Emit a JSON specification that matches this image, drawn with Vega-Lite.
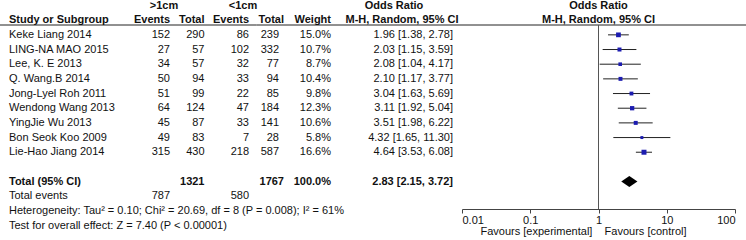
{
  "$schema": "https://vega.github.io/schema/vega-lite/v6.json",
  "width": 746,
  "height": 240,
  "autosize": "none",
  "padding": 0,
  "config": {
    "view": {"stroke": null},
    "text": {"font": "Liberation Sans", "fontSize": 11, "color": "#111", "baseline": "middle"}
  },
  "datasets": {
    "grouphead": [{"row": 0, "g1": ">1cm", "g2": "<1cm", "or": "Odds Ratio"}],
    "colhead": [{"row": 1, "study": "Study or Subgroup", "e1": "Events", "t1": "Total", "e2": "Events", "t2": "Total", "w": "Weight", "ci": "M-H, Random, 95% CI"}],
    "studies": [
      {"row": 2, "study": "Keke Liang 2014", "e1": 152, "t1": 290, "e2": 86, "t2": 239, "w": 0.150, "or": 1.96, "lo": 1.38, "hi": 2.78, "ci": "1.96 [1.38, 2.78]"},
      {"row": 3, "study": "LING-NA MAO 2015", "e1": 27, "t1": 57, "e2": 102, "t2": 332, "w": 0.107, "or": 2.03, "lo": 1.15, "hi": 3.59, "ci": "2.03 [1.15, 3.59]"},
      {"row": 4, "study": "Lee, K. E 2013", "e1": 34, "t1": 57, "e2": 32, "t2": 77, "w": 0.087, "or": 2.08, "lo": 1.04, "hi": 4.17, "ci": "2.08 [1.04, 4.17]"},
      {"row": 5, "study": "Q. Wang.B 2014", "e1": 50, "t1": 94, "e2": 33, "t2": 94, "w": 0.104, "or": 2.10, "lo": 1.17, "hi": 3.77, "ci": "2.10 [1.17, 3.77]"},
      {"row": 6, "study": "Jong-Lyel Roh 2011", "e1": 51, "t1": 99, "e2": 22, "t2": 85, "w": 0.098, "or": 3.04, "lo": 1.63, "hi": 5.69, "ci": "3.04 [1.63, 5.69]"},
      {"row": 7, "study": "Wendong Wang 2013", "e1": 64, "t1": 124, "e2": 47, "t2": 184, "w": 0.123, "or": 3.11, "lo": 1.92, "hi": 5.04, "ci": "3.11 [1.92, 5.04]"},
      {"row": 8, "study": "YingJie Wu 2013", "e1": 45, "t1": 87, "e2": 33, "t2": 141, "w": 0.106, "or": 3.51, "lo": 1.98, "hi": 6.22, "ci": "3.51 [1.98, 6.22]"},
      {"row": 9, "study": "Bon Seok Koo 2009", "e1": 49, "t1": 83, "e2": 7, "t2": 28, "w": 0.058, "or": 4.32, "lo": 1.65, "hi": 11.30, "ci": "4.32 [1.65, 11.30]"},
      {"row": 10, "study": "Lie-Hao Jiang 2014", "e1": 315, "t1": 430, "e2": 218, "t2": 587, "w": 0.166, "or": 4.64, "lo": 3.53, "hi": 6.08, "ci": "4.64 [3.53, 6.08]"}
    ],
    "total": [{"row": 12, "study": "Total (95% CI)", "t1": 1321, "t2": 1767, "w": 1.0, "or": 2.83, "lo": 2.15, "hi": 3.72, "ci": "2.83 [2.15, 3.72]"}],
    "events": [{"row": 13, "study": "Total events", "e1": 787, "e2": 580}],
    "notes": [
      {"row": 14, "study": "Heterogeneity: Tau² = 0.10; Chi² = 20.69, df = 8 (P = 0.008); I² = 61%"},
      {"row": 15, "study": "Test for overall effect: Z = 7.40 (P < 0.00001)"}
    ]
  },
  "layer": [
    {
      "layer": [
        {
          "data": {"values": [{}]},
          "mark": {"type": "rule", "color": "#222", "strokeWidth": 1},
          "encoding": {
            "y": {"datum": 1.33, "type": "quantitative", "scale": {"domain": [0, 15], "range": [5.5, 225.6], "nice": false, "zero": false}, "axis": null}
          }
        },
        {
          "data": {"name": "grouphead"},
          "layer": [
            {"mark": {"type": "text", "fontWeight": "bold", "align": "center"},
             "encoding": {"x": {"datum": 1, "type": "quantitative", "scale": {"domain": [0,1,2,3,4,5,6,7,8,9,10,11], "range": [9,164,170,204.5,243,249,279,284,331,394,402,453], "nice": false, "zero": false}, "axis": null},
                          "y": {"field": "row", "type": "quantitative", "scale": {"domain": [0, 15], "range": [5.5, 225.6], "nice": false, "zero": false}, "axis": null},
                          "text": {"field": "g1"}}},
            {"mark": {"type": "text", "fontWeight": "bold", "align": "center"},
             "encoding": {"x": {"datum": 4, "type": "quantitative", "scale": {"domain": [0,1,2,3,4,5,6,7,8,9,10,11], "range": [9,164,170,204.5,243,249,279,284,331,394,402,453], "nice": false, "zero": false}, "axis": null},
                          "y": {"field": "row", "type": "quantitative", "scale": {"domain": [0, 15], "range": [5.5, 225.6], "nice": false, "zero": false}, "axis": null},
                          "text": {"field": "g2"}}},
            {"mark": {"type": "text", "fontWeight": "bold", "align": "center"},
             "encoding": {"x": {"datum": 9, "type": "quantitative", "scale": {"domain": [0,1,2,3,4,5,6,7,8,9,10,11], "range": [9,164,170,204.5,243,249,279,284,331,394,402,453], "nice": false, "zero": false}, "axis": null},
                          "y": {"field": "row", "type": "quantitative", "scale": {"domain": [0, 15], "range": [5.5, 225.6], "nice": false, "zero": false}, "axis": null},
                          "text": {"field": "or"}}}
          ]
        },
        {
          "data": {"name": "colhead"},
          "layer": [
            {"mark": {"type": "text", "fontWeight": "bold", "align": "left"},
             "encoding": {"x": {"datum": 0, "type": "quantitative", "scale": {"domain": [0,1,2,3,4,5,6,7,8,9,10,11], "range": [9,164,170,204.5,243,249,279,284,331,394,402,453], "nice": false, "zero": false}, "axis": null},
                          "y": {"field": "row", "type": "quantitative", "scale": {"domain": [0, 15], "range": [5.5, 225.6], "nice": false, "zero": false}, "axis": null},
                          "text": {"field": "study"}}},
            {"mark": {"type": "text", "fontWeight": "bold", "align": "right"},
             "encoding": {"x": {"datum": 2, "type": "quantitative", "scale": {"domain": [0,1,2,3,4,5,6,7,8,9,10,11], "range": [9,164,170,204.5,243,249,279,284,331,394,402,453], "nice": false, "zero": false}, "axis": null},
                          "y": {"field": "row", "type": "quantitative", "scale": {"domain": [0, 15], "range": [5.5, 225.6], "nice": false, "zero": false}, "axis": null},
                          "text": {"field": "e1"}}},
            {"mark": {"type": "text", "fontWeight": "bold", "align": "right"},
             "encoding": {"x": {"datum": 3, "type": "quantitative", "scale": {"domain": [0,1,2,3,4,5,6,7,8,9,10,11], "range": [9,164,170,204.5,243,249,279,284,331,394,402,453], "nice": false, "zero": false}, "axis": null},
                          "y": {"field": "row", "type": "quantitative", "scale": {"domain": [0, 15], "range": [5.5, 225.6], "nice": false, "zero": false}, "axis": null},
                          "text": {"field": "t1"}}},
            {"mark": {"type": "text", "fontWeight": "bold", "align": "right"},
             "encoding": {"x": {"datum": 5, "type": "quantitative", "scale": {"domain": [0,1,2,3,4,5,6,7,8,9,10,11], "range": [9,164,170,204.5,243,249,279,284,331,394,402,453], "nice": false, "zero": false}, "axis": null},
                          "y": {"field": "row", "type": "quantitative", "scale": {"domain": [0, 15], "range": [5.5, 225.6], "nice": false, "zero": false}, "axis": null},
                          "text": {"field": "e2"}}},
            {"mark": {"type": "text", "fontWeight": "bold", "align": "right"},
             "encoding": {"x": {"datum": 7, "type": "quantitative", "scale": {"domain": [0,1,2,3,4,5,6,7,8,9,10,11], "range": [9,164,170,204.5,243,249,279,284,331,394,402,453], "nice": false, "zero": false}, "axis": null},
                          "y": {"field": "row", "type": "quantitative", "scale": {"domain": [0, 15], "range": [5.5, 225.6], "nice": false, "zero": false}, "axis": null},
                          "text": {"field": "t2"}}},
            {"mark": {"type": "text", "fontWeight": "bold", "align": "right"},
             "encoding": {"x": {"datum": 8, "type": "quantitative", "scale": {"domain": [0,1,2,3,4,5,6,7,8,9,10,11], "range": [9,164,170,204.5,243,249,279,284,331,394,402,453], "nice": false, "zero": false}, "axis": null},
                          "y": {"field": "row", "type": "quantitative", "scale": {"domain": [0, 15], "range": [5.5, 225.6], "nice": false, "zero": false}, "axis": null},
                          "text": {"field": "w"}}},
            {"mark": {"type": "text", "fontWeight": "bold", "align": "center"},
             "encoding": {"x": {"datum": 10, "type": "quantitative", "scale": {"domain": [0,1,2,3,4,5,6,7,8,9,10,11], "range": [9,164,170,204.5,243,249,279,284,331,394,402,453], "nice": false, "zero": false}, "axis": null},
                          "y": {"field": "row", "type": "quantitative", "scale": {"domain": [0, 15], "range": [5.5, 225.6], "nice": false, "zero": false}, "axis": null},
                          "text": {"field": "ci"}}}
          ]
        },
        {
          "data": {"name": "studies"},
          "layer": [
            {"mark": {"type": "text", "align": "left"},
             "encoding": {"x": {"datum": 0, "type": "quantitative", "scale": {"domain": [0,1,2,3,4,5,6,7,8,9,10,11], "range": [9,164,170,204.5,243,249,279,284,331,394,402,453], "nice": false, "zero": false}, "axis": null},
                          "y": {"field": "row", "type": "quantitative", "scale": {"domain": [0, 15], "range": [5.5, 225.6], "nice": false, "zero": false}, "axis": null},
                          "text": {"field": "study"}}},
            {"mark": {"type": "text", "align": "right"},
             "encoding": {"x": {"datum": 2, "type": "quantitative", "scale": {"domain": [0,1,2,3,4,5,6,7,8,9,10,11], "range": [9,164,170,204.5,243,249,279,284,331,394,402,453], "nice": false, "zero": false}, "axis": null},
                          "y": {"field": "row", "type": "quantitative", "scale": {"domain": [0, 15], "range": [5.5, 225.6], "nice": false, "zero": false}, "axis": null},
                          "text": {"field": "e1", "type": "quantitative", "format": "d"}}},
            {"mark": {"type": "text", "align": "right"},
             "encoding": {"x": {"datum": 3, "type": "quantitative", "scale": {"domain": [0,1,2,3,4,5,6,7,8,9,10,11], "range": [9,164,170,204.5,243,249,279,284,331,394,402,453], "nice": false, "zero": false}, "axis": null},
                          "y": {"field": "row", "type": "quantitative", "scale": {"domain": [0, 15], "range": [5.5, 225.6], "nice": false, "zero": false}, "axis": null},
                          "text": {"field": "t1", "type": "quantitative", "format": "d"}}},
            {"mark": {"type": "text", "align": "right"},
             "encoding": {"x": {"datum": 5, "type": "quantitative", "scale": {"domain": [0,1,2,3,4,5,6,7,8,9,10,11], "range": [9,164,170,204.5,243,249,279,284,331,394,402,453], "nice": false, "zero": false}, "axis": null},
                          "y": {"field": "row", "type": "quantitative", "scale": {"domain": [0, 15], "range": [5.5, 225.6], "nice": false, "zero": false}, "axis": null},
                          "text": {"field": "e2", "type": "quantitative", "format": "d"}}},
            {"mark": {"type": "text", "align": "right"},
             "encoding": {"x": {"datum": 6, "type": "quantitative", "scale": {"domain": [0,1,2,3,4,5,6,7,8,9,10,11], "range": [9,164,170,204.5,243,249,279,284,331,394,402,453], "nice": false, "zero": false}, "axis": null},
                          "y": {"field": "row", "type": "quantitative", "scale": {"domain": [0, 15], "range": [5.5, 225.6], "nice": false, "zero": false}, "axis": null},
                          "text": {"field": "t2", "type": "quantitative", "format": "d"}}},
            {"mark": {"type": "text", "align": "right"},
             "encoding": {"x": {"datum": 8, "type": "quantitative", "scale": {"domain": [0,1,2,3,4,5,6,7,8,9,10,11], "range": [9,164,170,204.5,243,249,279,284,331,394,402,453], "nice": false, "zero": false}, "axis": null},
                          "y": {"field": "row", "type": "quantitative", "scale": {"domain": [0, 15], "range": [5.5, 225.6], "nice": false, "zero": false}, "axis": null},
                          "text": {"field": "w", "type": "quantitative", "format": ".1%"}}},
            {"mark": {"type": "text", "align": "right"},
             "encoding": {"x": {"datum": 11, "type": "quantitative", "scale": {"domain": [0,1,2,3,4,5,6,7,8,9,10,11], "range": [9,164,170,204.5,243,249,279,284,331,394,402,453], "nice": false, "zero": false}, "axis": null},
                          "y": {"field": "row", "type": "quantitative", "scale": {"domain": [0, 15], "range": [5.5, 225.6], "nice": false, "zero": false}, "axis": null},
                          "text": {"field": "ci"}}}
          ]
        },
        {
          "data": {"name": "total"},
          "layer": [
            {"mark": {"type": "text", "fontWeight": "bold", "align": "left"},
             "encoding": {"x": {"datum": 0, "type": "quantitative", "scale": {"domain": [0,1,2,3,4,5,6,7,8,9,10,11], "range": [9,164,170,204.5,243,249,279,284,331,394,402,453], "nice": false, "zero": false}, "axis": null},
                          "y": {"field": "row", "type": "quantitative", "scale": {"domain": [0, 15], "range": [5.5, 225.6], "nice": false, "zero": false}, "axis": null},
                          "text": {"field": "study"}}},
            {"mark": {"type": "text", "fontWeight": "bold", "align": "right"},
             "encoding": {"x": {"datum": 3, "type": "quantitative", "scale": {"domain": [0,1,2,3,4,5,6,7,8,9,10,11], "range": [9,164,170,204.5,243,249,279,284,331,394,402,453], "nice": false, "zero": false}, "axis": null},
                          "y": {"field": "row", "type": "quantitative", "scale": {"domain": [0, 15], "range": [5.5, 225.6], "nice": false, "zero": false}, "axis": null},
                          "text": {"field": "t1", "type": "quantitative", "format": "d"}}},
            {"mark": {"type": "text", "fontWeight": "bold", "align": "right"},
             "encoding": {"x": {"datum": 7, "type": "quantitative", "scale": {"domain": [0,1,2,3,4,5,6,7,8,9,10,11], "range": [9,164,170,204.5,243,249,279,284,331,394,402,453], "nice": false, "zero": false}, "axis": null},
                          "y": {"field": "row", "type": "quantitative", "scale": {"domain": [0, 15], "range": [5.5, 225.6], "nice": false, "zero": false}, "axis": null},
                          "text": {"field": "t2", "type": "quantitative", "format": "d"}}},
            {"mark": {"type": "text", "fontWeight": "bold", "align": "right"},
             "encoding": {"x": {"datum": 8, "type": "quantitative", "scale": {"domain": [0,1,2,3,4,5,6,7,8,9,10,11], "range": [9,164,170,204.5,243,249,279,284,331,394,402,453], "nice": false, "zero": false}, "axis": null},
                          "y": {"field": "row", "type": "quantitative", "scale": {"domain": [0, 15], "range": [5.5, 225.6], "nice": false, "zero": false}, "axis": null},
                          "text": {"field": "w", "type": "quantitative", "format": ".1%"}}},
            {"mark": {"type": "text", "fontWeight": "bold", "align": "right"},
             "encoding": {"x": {"datum": 11, "type": "quantitative", "scale": {"domain": [0,1,2,3,4,5,6,7,8,9,10,11], "range": [9,164,170,204.5,243,249,279,284,331,394,402,453], "nice": false, "zero": false}, "axis": null},
                          "y": {"field": "row", "type": "quantitative", "scale": {"domain": [0, 15], "range": [5.5, 225.6], "nice": false, "zero": false}, "axis": null},
                          "text": {"field": "ci"}}}
          ]
        },
        {
          "data": {"name": "events"},
          "layer": [
            {"mark": {"type": "text", "align": "left"},
             "encoding": {"x": {"datum": 0, "type": "quantitative", "scale": {"domain": [0,1,2,3,4,5,6,7,8,9,10,11], "range": [9,164,170,204.5,243,249,279,284,331,394,402,453], "nice": false, "zero": false}, "axis": null},
                          "y": {"field": "row", "type": "quantitative", "scale": {"domain": [0, 15], "range": [5.5, 225.6], "nice": false, "zero": false}, "axis": null},
                          "text": {"field": "study"}}},
            {"mark": {"type": "text", "align": "right"},
             "encoding": {"x": {"datum": 2, "type": "quantitative", "scale": {"domain": [0,1,2,3,4,5,6,7,8,9,10,11], "range": [9,164,170,204.5,243,249,279,284,331,394,402,453], "nice": false, "zero": false}, "axis": null},
                          "y": {"field": "row", "type": "quantitative", "scale": {"domain": [0, 15], "range": [5.5, 225.6], "nice": false, "zero": false}, "axis": null},
                          "text": {"field": "e1", "type": "quantitative", "format": "d"}}},
            {"mark": {"type": "text", "align": "right"},
             "encoding": {"x": {"datum": 5, "type": "quantitative", "scale": {"domain": [0,1,2,3,4,5,6,7,8,9,10,11], "range": [9,164,170,204.5,243,249,279,284,331,394,402,453], "nice": false, "zero": false}, "axis": null},
                          "y": {"field": "row", "type": "quantitative", "scale": {"domain": [0, 15], "range": [5.5, 225.6], "nice": false, "zero": false}, "axis": null},
                          "text": {"field": "e2", "type": "quantitative", "format": "d"}}}
          ]
        },
        {
          "data": {"name": "notes"},
          "mark": {"type": "text", "align": "left"},
          "encoding": {"x": {"datum": 0, "type": "quantitative", "scale": {"domain": [0,1,2,3,4,5,6,7,8,9,10,11], "range": [9,164,170,204.5,243,249,279,284,331,394,402,453], "nice": false, "zero": false}, "axis": null},
                       "y": {"field": "row", "type": "quantitative", "scale": {"domain": [0, 15], "range": [5.5, 225.6], "nice": false, "zero": false}, "axis": null},
                       "text": {"field": "study"}}
        }
      ]
    },
    {
      "layer": [
        {
          "data": {"name": "studies"},
          "mark": {"type": "rule", "color": "#222", "strokeWidth": 1},
          "encoding": {
            "x": {"field": "lo", "type": "quantitative", "scale": {"type": "log", "domain": [0.01, 100], "range": [462, 735], "nice": false},
                  "axis": {"orient": "bottom", "offset": -31, "values": [0.01, 0.1, 1, 10, 100], "format": "~g", "grid": false,
                           "domainColor": "#444", "tickColor": "#444", "tickSize": 4, "labelFlush": true, "labelPadding": 1.5,
                           "labelFont": "Liberation Sans", "labelFontSize": 11, "labelColor": "#111",
                           "title": "Favours [experimental]\u00a0\u00a0\u00a0\u00a0Favours [control]",
                           "titleFont": "Liberation Sans", "titleFontSize": 11, "titleFontWeight": "normal", "titleColor": "#111",
                           "titleX": 480, "titleY": 22.5, "titleAlign": "left", "titleBaseline": "middle", "titleAnchor": "start"}},
            "x2": {"field": "hi"},
            "y": {"field": "row", "type": "quantitative", "scale": {"domain": [0, 15], "range": [5.5, 225.6], "nice": false, "zero": false}, "axis": null}
          }
        },
        {
          "data": {"values": [{}]},
          "mark": {"type": "rule", "color": "#555", "strokeWidth": 1},
          "encoding": {
            "x": {"datum": 1, "type": "quantitative"},
            "y": {"datum": 1.33, "type": "quantitative"},
            "y2": {"datum": 13.87}
          }
        },
        {
          "data": {"name": "studies"},
          "mark": {"type": "point", "shape": "square", "filled": true, "color": "#1c1cb0", "opacity": 1},
          "encoding": {
            "x": {"field": "or", "type": "quantitative"},
            "y": {"field": "row", "type": "quantitative"},
            "size": {"field": "w", "type": "quantitative", "scale": {"domain": [0, 0.2], "range": [0, 30]}, "legend": null}
          }
        },
        {
          "data": {"name": "total"},
          "mark": {"type": "point", "shape": "M-1,0L0,-0.68L1,0L0,0.68Z", "filled": true, "color": "#000", "opacity": 1, "size": 262},
          "encoding": {
            "x": {"field": "or", "type": "quantitative"},
            "y": {"field": "row", "type": "quantitative"}
          }
        },
        {
          "data": {"name": "grouphead"},
          "mark": {"type": "text", "fontWeight": "bold", "align": "center"},
          "encoding": {
            "x": {"datum": 1, "type": "quantitative"},
            "y": {"field": "row", "type": "quantitative"},
            "text": {"field": "or"}
          }
        },
        {
          "data": {"name": "colhead"},
          "mark": {"type": "text", "fontWeight": "bold", "align": "center"},
          "encoding": {
            "x": {"datum": 1, "type": "quantitative"},
            "y": {"field": "row", "type": "quantitative"},
            "text": {"field": "ci"}
          }
        }
      ]
    }
  ],
  "resolve": {"scale": {"x": "independent"}, "axis": {"x": "independent"}}
}
